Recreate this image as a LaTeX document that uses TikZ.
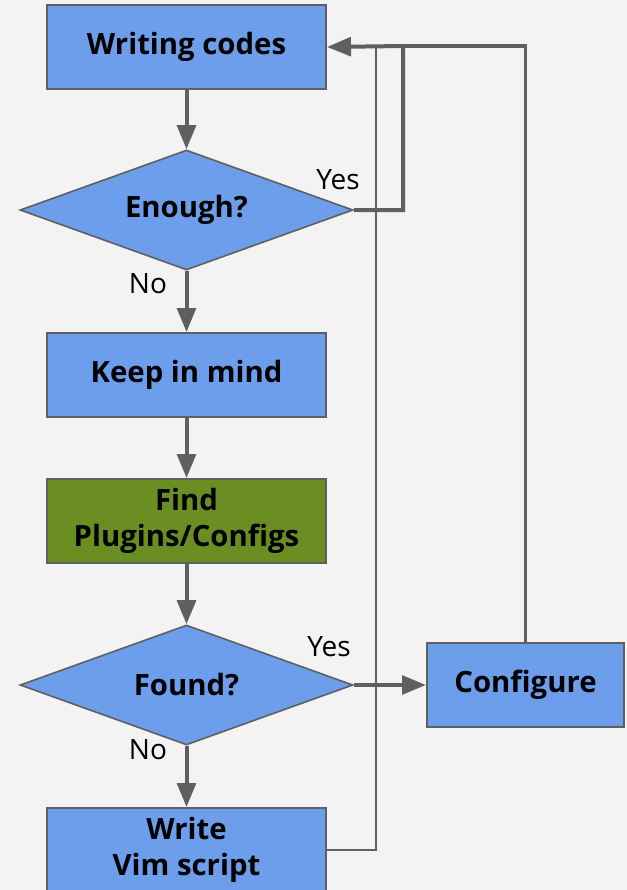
\documentclass[tikz,border=0pt]{standalone}
\usepackage{fontspec}
\setmainfont{Open Sans}
\usetikzlibrary{shapes.geometric,arrows.meta}
\definecolor{bg}{HTML}{F3F3F3}
\definecolor{boxblue}{HTML}{6D9EEB}
\definecolor{olive}{HTML}{6B8E23}
\definecolor{edge}{HTML}{5F5F5F}
\tikzset{
  px/.style={x=0.75pt,y=-0.75pt},
  procbox/.style={draw=edge,line width=1.5pt,fill=boxblue,minimum width=209.25pt,minimum height=63pt,inner sep=0pt,align=center,font=\fontsize{22}{27}\selectfont\bfseries},
  decide/.style={diamond,shape aspect=2.775,draw=edge,line width=1.2pt,fill=boxblue,minimum width=249.75pt,minimum height=90pt,inner sep=0pt,font=\fontsize{22}{27}\selectfont\bfseries},
  flow/.style={draw=edge,line width=3pt,-{Triangle[length=18pt,width=14pt]}},
  flowplain/.style={draw=edge,line width=2.6pt},
  thinflow/.style={draw=edge,line width=1.5pt},
  lab/.style={font=\fontsize{21}{25}\selectfont,text=black,inner sep=0pt}
}
\begin{document}
\begin{tikzpicture}[px]
\fill[bg] (0,0) rectangle (627,890);
\useasboundingbox (0,0) rectangle (627,890);
\node[procbox] (wc) at (186.5,47) {Writing codes};
\node[decide] (en) at (186.5,210) {Enough?};
\node[procbox] (km) at (186.5,375) {Keep in mind};
\node[procbox,fill=olive] (fp) at (186.5,521) {Find\\Plugins/Configs};
\node[decide] (fd) at (186.5,685) {Found?};
\node[procbox] (wv) at (186.5,850) {Write\\Vim script};
\node[procbox,minimum width=147.75pt] (cf) at (525.5,685) {Configure};
\coordinate (jA) at (403,46);
\coordinate (jB) at (525.5,46);
\coordinate (jC) at (376,46);
\draw[thinflow] (wv.east) -| (jC);
\draw[flow] (wc.south) -- (en.north);
\draw[flow] (en.south) -- (km.north);
\draw[flow] (km.south) -- (fp.north);
\draw[flow] (fp.south) -- (fd.north);
\draw[flow] (fd.south) -- (wv.north);
\draw[flow] (fd.east) -- (cf.west);
\draw[flowplain] (cf.north) -- (jB) -- (jA);
\draw[flow] (en.east) -| (jA) -- (wc.east);
\node[lab] (y1) at (338,180) {Yes};
\node[lab] (n1) at (148,284) {No};
\node[lab] (y2) at (329,647) {Yes};
\node[lab] (n2) at (148,750) {No};
\end{tikzpicture}
\end{document}
